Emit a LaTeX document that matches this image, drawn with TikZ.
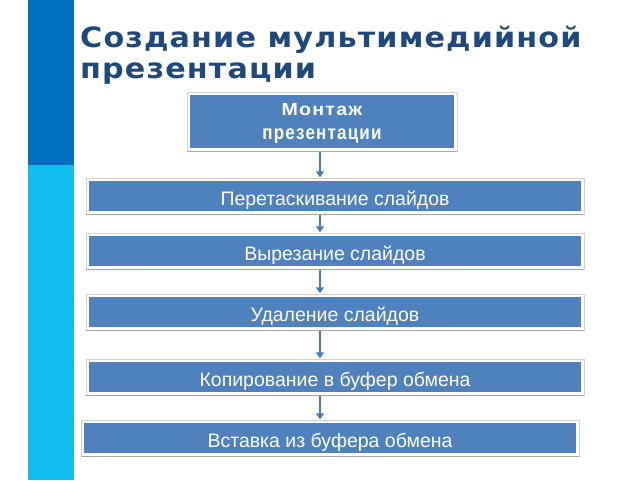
\documentclass[tikz,border=0pt]{standalone}
\usepackage{fontspec}
\setmainfont{Liberation Sans}
\newfontfamily\titlefont[LetterSpace=4,FakeStretch=1.08]{DejaVu Sans}
\newfontfamily\topfonta[LetterSpace=7,FakeStretch=1.12]{Liberation Sans}
\newfontfamily\topfontb[LetterSpace=6,FakeStretch=0.85]{Liberation Sans}
\usetikzlibrary{arrows.meta,calc,backgrounds}
\definecolor{barblue}{RGB}{0,112,192}
\definecolor{barcyan}{RGB}{15,189,239}
\definecolor{boxblue}{RGB}{79,129,189}
\definecolor{titleblue}{RGB}{31,73,125}
\definecolor{arrowblue}{RGB}{74,122,181}
\tikzset{
  bx/.style={rectangle, fill=boxblue, text=white, inner sep=0pt, minimum height=30pt, minimum width=492pt, text height=18pt, text depth=0pt, font=\fontsize{19.5}{22}\selectfont},
  frm/.style={fill=white, draw=gray!35, line width=0.6pt},
  shd/.style={draw=gray!70, line width=1.2pt},
  arr/.style={draw=arrowblue, line width=2.6pt, -{Triangle[width=8pt,length=6pt]}, shorten <=3.5pt, shorten >=3.5pt}
}
\newcommand{\myframe}[1]{%
  \path[frm] ([shift={(-3,-3)}]#1.north west) rectangle ([shift={(3,3)}]#1.south east);
  \draw[shd] ([shift={(-3,3)}]#1.south west) -- ([shift={(3,3)}]#1.south east);
}
\begin{document}
\begin{tikzpicture}[x=1pt,y=-1pt]
\useasboundingbox (0,0) rectangle (640,480);
\fill[barblue] (28,0) rectangle (74,165);
\fill[barcyan] (28,165) rectangle (74,480);
\node[anchor=base west, text=titleblue, align=left, inner sep=0pt,
  font=\titlefont\bfseries\fontsize{28}{30.5}\selectfont] (title) at (80,78)
  {Создание мультимедийной\\презентации};
% boxes
\node[bx, minimum width=264pt, minimum height=53pt, align=center, text height=, text depth=0pt,
  font=\bfseries\fontsize{17.5}{23.3}\selectfont] (top) at (322,121.5)
  {{\topfonta\bfseries\fontsize{17.5}{23.3}\selectfont Монтаж}\\{\topfontb\bfseries\fontsize{20}{23.3}\selectfont презентации}};
\node[bx] (b1) at (335,196) {Перетаскивание слайдов};
\node[bx] (b2) at (335,251) {Вырезание слайдов};
\node[bx] (b3) at (335,312) {Удаление слайдов};
\node[bx] (b4) at (335,377) {Копирование в буфер обмена};
\node[bx] (b5) at (330,438) {Вставка из буфера обмена};
\coordinate (ax) at (320,0);
\begin{scope}[on background layer]
\fill[white] (0,0) rectangle (640,480);
\myframe{top}
\myframe{b1}
\myframe{b2}
\myframe{b3}
\myframe{b4}
\myframe{b5}
\end{scope}
\draw[arr] (top.south -| ax) -- (b1.north -| ax);
\draw[arr] (b1.south -| ax) -- (b2.north -| ax);
\draw[arr] (b2.south -| ax) -- (b3.north -| ax);
\draw[arr] (b3.south -| ax) -- (b4.north -| ax);
\draw[arr] (b4.south -| ax) -- (b5.north -| ax);
\end{tikzpicture}
\end{document}
